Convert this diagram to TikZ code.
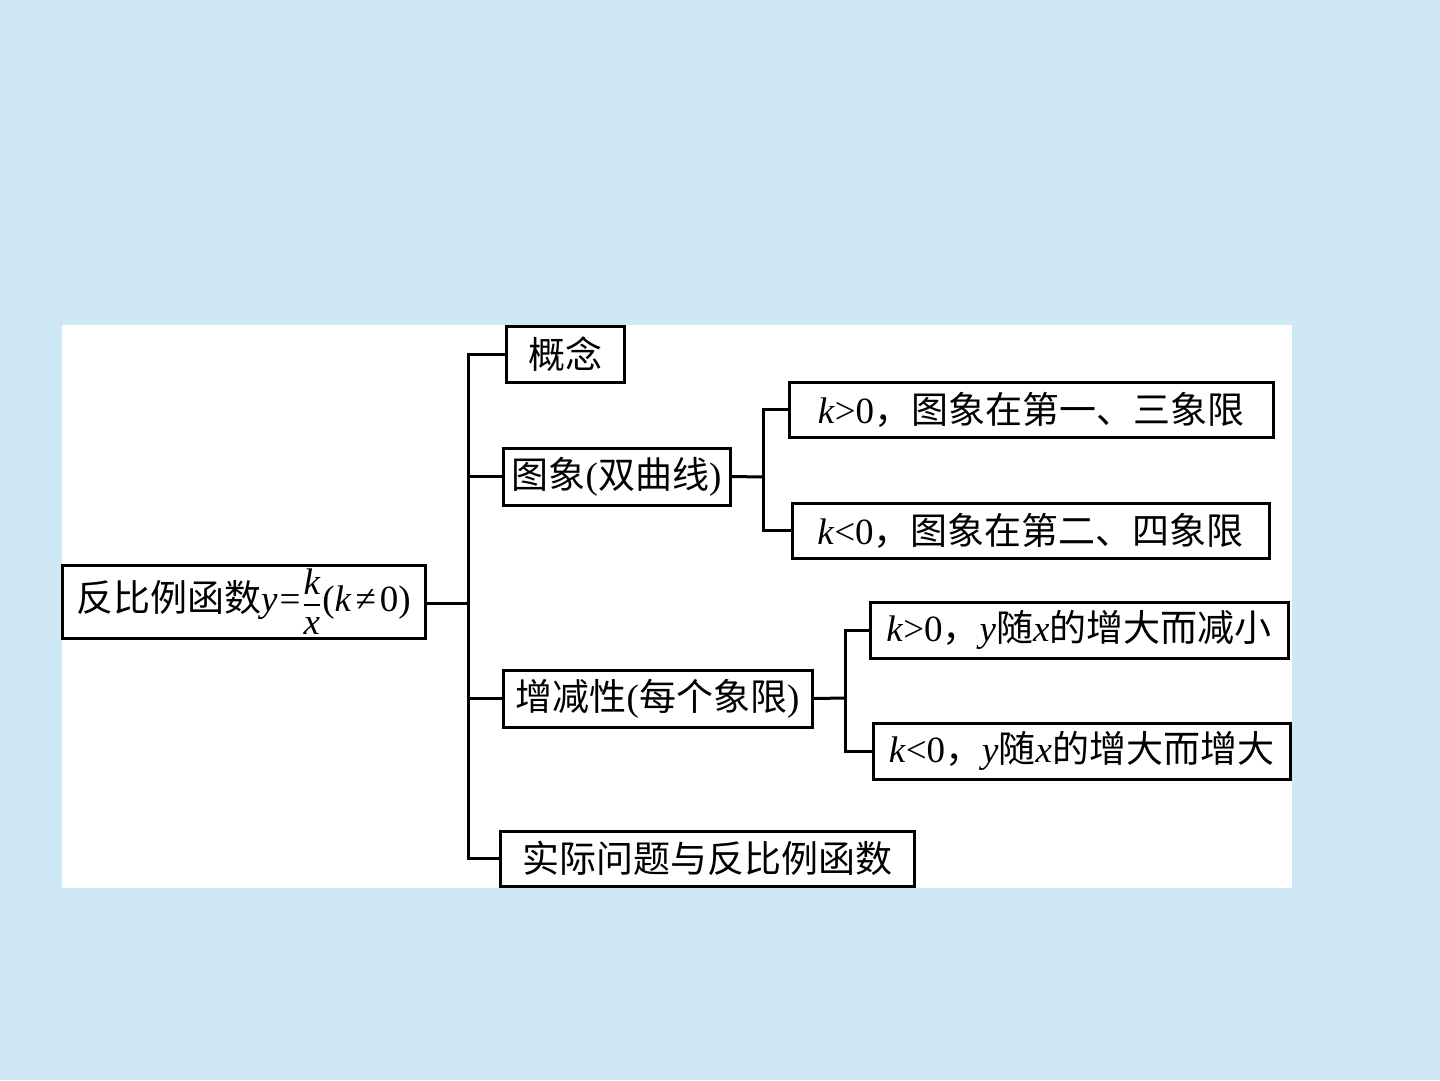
\documentclass[tikz,border=0pt]{standalone}
\usepackage{amsmath}
\usepackage{fontspec}
\setmainfont{Liberation Serif}
\newfontfamily\cjk{Noto Sans CJK SC}
\definecolor{bgblue}{RGB}{207,232,246}
\tikzset{
  box/.style={draw=black, line width=3pt, fill=white, inner sep=0pt, align=center,
    font=\fontsize{37}{40}\selectfont},
  link/.style={line width=3pt, line cap=rect}
}
\newcommand{\zh}[1]{{\cjk #1}}
\newcommand{\vi}[1]{\textit{#1}}
\begin{document}
\begin{tikzpicture}[x=1pt, y=-1pt]
  % page and white panel
  \fill[bgblue] (0,0) rectangle (1440,1080);
  \useasboundingbox (0,0) rectangle (1440,1080);
  \fill[white] (62,325) rectangle (1292,888);

  % root
  \node[box, minimum width=363pt, minimum height=73pt] (root) at (243.5,601.5)
    {\zh{反比例函数}\vi{y}\hspace{2pt}=\hspace{2pt}$\genfrac{}{}{1.6pt}{0}{\vi{k}\rule[-5pt]{0pt}{1pt}}{\rule{0pt}{24pt}\vi{x}}$\hspace{1pt}(\vi{k}\hspace{4pt}≠\hspace{4pt}0)};

  % first level
  \node[box, minimum width=118pt, minimum height=56pt] (gn) at (565,354) {\zh{概念}};
  \node[box, minimum width=227pt, minimum height=57pt] (tx) at (616.5,476.5) {\zh{图象}(\zh{双曲线})};
  \node[box, minimum width=309pt, minimum height=57pt] (zj) at (657.5,698.5) {\zh{增减性}(\zh{每个象限})};
  \node[box, minimum width=414pt, minimum height=55pt] (sj) at (707,858.5) {\zh{实际问题与反比例函数}};

  % second level: graph
  \node[box, minimum width=484pt, minimum height=55pt] (txa) at (1031,409.5)
    {\vi{k}>0\zh{，图象在第一、三象限}};
  \node[box, minimum width=477pt, minimum height=55pt] (txb) at (1030.5,530.5)
    {\vi{k}<0\zh{，图象在第二、四象限}};

  % second level: monotonicity
  \node[box, minimum width=418pt, minimum height=56pt] (zja) at (1079,630)
    {\vi{k}>0\zh{，}\vi{y}\zh{随}\vi{x}\zh{的增大而减小}};
  \node[box, minimum width=417pt, minimum height=56pt] (zjb) at (1081.5,751)
    {\vi{k}<0\zh{，}\vi{y}\zh{随}\vi{x}\zh{的增大而增大}};

  % trunk positions
  \coordinate (t1) at (468,603);
  \coordinate (t2) at (763,477);
  \coordinate (t3) at (845,698);

  % connectors from the root
  \draw[link] (root.east |- t1) -- (t1);
  \draw[link] (gn.west) -- (gn.west -| t1) -- (sj.west -| t1) -- (sj.west);
  \draw[link] (tx.west) -- (tx.west -| t1);
  \draw[link] (zj.west) -- (zj.west -| t1);

  % connectors for the graph
  \draw[link] (tx.east) -- (t2);
  \draw[link] (txa.west) -- (txa.west -| t2) -- (txb.west -| t2) -- (txb.west);

  % connectors for monotonicity
  \draw[link] (zj.east) -- (t3);
  \draw[link] (zja.west) -- (zja.west -| t3) -- (zjb.west -| t3) -- (zjb.west);
\end{tikzpicture}
\end{document}
